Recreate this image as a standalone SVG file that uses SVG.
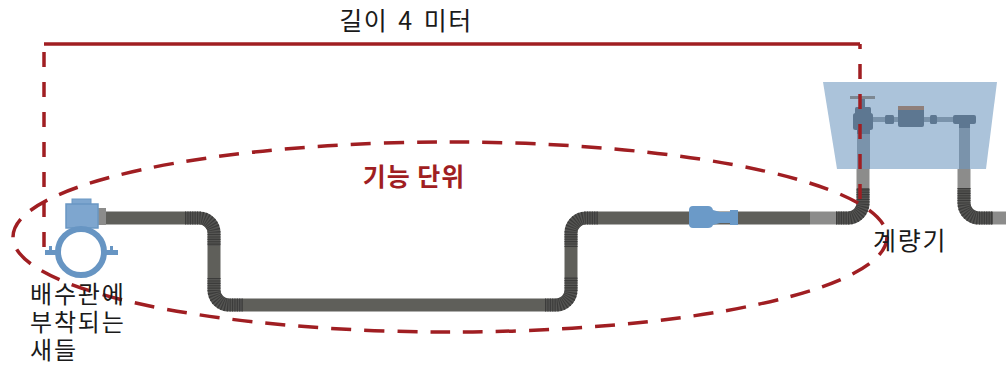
<svg xmlns="http://www.w3.org/2000/svg" width="1006" height="369" viewBox="0 0 1006 369">
  <defs>
    <style>
      .pipe { fill: none; stroke: #5f5f5a; stroke-width: 13; stroke-linecap: butt; }
      .pipe-light { fill: none; stroke: #8c8c8b; stroke-width: 13; stroke-linecap: butt; }
      .corr { fill: none; stroke: #555553; stroke-width: 13; stroke-linecap: butt; }
      .corr-rib { fill: none; stroke: #3c3c3b; stroke-width: 13; stroke-linecap: butt; stroke-dasharray: 1.1 1.3; }
      .red { fill: none; stroke: #a01e22; stroke-width: 3.5; }
      .dash-v { stroke-dasharray: 15 15; }
      .box-part { fill: #5d7791; }
      .box-pipe { fill: #7a93ab; }
      .label { font-family: 'Noto Sans CJK KR', 'Noto Sans', sans-serif; font-size: 24px; fill: #1a1a1a; letter-spacing: 1.8px; }
      .label-top { font-family: 'Noto Sans CJK KR', 'Noto Sans', sans-serif; font-size: 25px; fill: #1a1a1a; letter-spacing: 1.5px; word-spacing: 3px; }
      .label-red { font-family: 'Noto Sans CJK KR', 'Noto Sans', sans-serif; font-size: 25px; font-weight: bold; fill: #a01e22; letter-spacing: 1px; }
    </style>
  </defs>

  <!-- water line: plain straight runs -->
  <g id="pipe-run">
    <path class="pipe" d="M105,218 H185"/>
    <path class="pipe" d="M214,246 V278"/>
    <path class="pipe" d="M243,305 H545"/>
    <path class="pipe" d="M571,277 V247"/>
    <path class="pipe" d="M598,218 H810"/>
    <path class="pipe-light" d="M810,218 H836"/>
    <path class="pipe-light" d="M863,188 V168"/>
    <path class="pipe-light" d="M964,188 V168"/>
    <path class="pipe-light" d="M993,218 H1006"/>

    <!-- corrugated bends -->
    <g id="bends">
      <path class="corr" d="M185,218 H199 A15,15 0 0 1 214,233 V246"/>
      <path class="corr-rib" d="M185,218 H199 A15,15 0 0 1 214,233 V246"/>
      <path class="corr" d="M214,278 V290 A15,15 0 0 0 229,305 H243"/>
      <path class="corr-rib" d="M214,278 V290 A15,15 0 0 0 229,305 H243"/>
      <path class="corr" d="M545,305 H556 A15,15 0 0 0 571,290 V277"/>
      <path class="corr-rib" d="M545,305 H556 A15,15 0 0 0 571,290 V277"/>
      <path class="corr" d="M571,247 V233 A15,15 0 0 1 586,218 H598"/>
      <path class="corr-rib" d="M571,247 V233 A15,15 0 0 1 586,218 H598"/>
      <path class="corr" d="M836,218 H848 A15,15 0 0 0 863,203 V188"/>
      <path class="corr-rib" d="M836,218 H848 A15,15 0 0 0 863,203 V188"/>
      <path class="corr" d="M964,188 V203 A15,15 0 0 0 979,218 H993"/>
      <path class="corr-rib" d="M964,188 V203 A15,15 0 0 0 979,218 H993"/>
    </g>
  </g>

  <!-- inline coupling -->
  <g id="coupling">
    <path fill="#6b9ac8" d="M693,206 H708 Q712,206 713,210 L720,212 H730 V210 H738 V225 H730 V223 H720 L713,225 Q712,228 708,228 H693 Q689,228 689,224 V210 Q689,206 693,206 Z"/>
  </g>

  <!-- tapping saddle on the main -->
  <g id="saddle">
    <rect x="97" y="208" width="9" height="17" fill="#8c8c8b"/>
    <rect x="72" y="199" width="19" height="6" fill="#7ea6cf" stroke="#6a97c3" stroke-width="1"/>
    <rect x="66" y="204" width="32" height="24" fill="#7ea6cf" stroke="#6a97c3" stroke-width="1.5"/>
    <circle cx="81" cy="252" r="23" fill="none" stroke="#6795c3" stroke-width="6"/>
    <path fill="#6795c3" d="M45,250 H49 V246 H52 V250 H60 V255 H45 Z"/>
    <path fill="#6795c3" d="M102,250 H110 V246 H113 V250 H118 V255 H102 Z"/>
  </g>

  <!-- meter box -->
  <g id="meter-box">
    <polygon points="823,82 997,82 986,169 837,169" fill="#abc3da"/>
    <rect class="box-pipe" x="857" y="128" width="13" height="41"/>
    <rect class="box-pipe" x="959" y="126" width="11" height="43"/>
    <rect x="850" y="96" width="25" height="3" fill="#7d8791"/>
    <rect class="box-part" x="861" y="99" width="4" height="9"/>
    <rect class="box-part" x="855" y="107" width="16" height="7" rx="1.5"/>
    <rect class="box-part" x="853" y="113" width="20" height="17" rx="2.5"/>
    <rect class="box-part" x="857" y="129" width="13" height="5"/>
    <rect class="box-pipe" x="873" y="117" width="12" height="5"/>
    <rect class="box-part" x="885" y="115" width="9" height="9" rx="1.5"/>
    <rect class="box-pipe" x="894" y="117" width="4" height="5"/>
    <rect class="box-part" x="898" y="106" width="26" height="21" rx="2"/>
    <rect x="898" y="106" width="26" height="4" fill="#8f7f7a"/>
    <rect class="box-pipe" x="924" y="117" width="6" height="5"/>
    <rect class="box-part" x="930" y="115" width="7" height="9" rx="1.5"/>
    <rect class="box-pipe" x="937" y="117" width="16" height="5"/>
    <rect class="box-part" x="953" y="115" width="23" height="9" rx="2"/>
    <rect class="box-part" x="959" y="124" width="11" height="4"/>
  </g>

  <!-- system boundary and dimension -->
  <g id="connectors">
    <path class="red" d="M44,44 H860"/>
    <path class="red dash-v" d="M44,52 V248"/>
    <path class="red dash-v" d="M860,44 V208" stroke-dashoffset="10"/>
    <ellipse class="red" cx="450" cy="237" rx="437" ry="95" stroke-dasharray="20 13"/>
  </g>

  <!-- labels -->
  <g id="labels">
    <text class="label-top" x="406" y="30" text-anchor="middle">길이 4 미터</text>
    <text class="label-red" x="414" y="186" text-anchor="middle">기능 단위</text>
    <text class="label" x="873" y="250" style="font-size:25px">계량기</text>
    <text class="label" x="30" y="303"><tspan x="30" y="303">배수관에</tspan><tspan x="30" y="331">부착되는</tspan><tspan x="30" y="359">새들</tspan></text>
  </g>
</svg>
